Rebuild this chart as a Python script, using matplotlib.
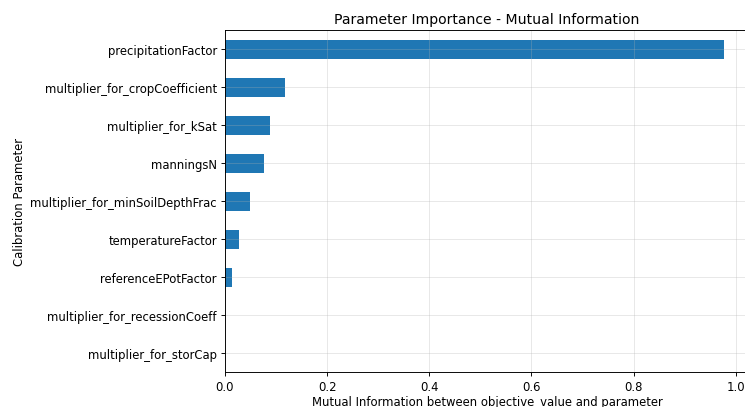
import numpy as np
import matplotlib
matplotlib.use("Agg")
import matplotlib.pyplot as plt

# Mutual information scores, lowest first (barh draws from the bottom up)
params = [
    "multiplier_for_storCap",
    "multiplier_for_recessionCoeff",
    "referenceEPotFactor",
    "temperatureFactor",
    "multiplier_for_minSoilDepthFrac",
    "manningsN",
    "multiplier_for_kSat",
    "multiplier_for_cropCoefficient",
    "precipitationFactor",
]
mi_scores = [0.0, 0.0, 0.014, 0.027, 0.049, 0.076, 0.088, 0.117, 0.977]

W, H, DPI = 745, 408, 84
fig = plt.figure(figsize=(W / DPI, H / DPI), dpi=DPI)
ax = fig.add_axes([225 / W, 35 / H, 524 / W, 342 / H])

pos = np.arange(len(params))
ax.barh(pos, mi_scores, height=0.5, color="#1f77b4")
ax.set_yticks(pos)
ax.set_yticklabels(params)
ax.set_ylim(-0.5, len(params) - 0.5)
ax.set_xlim(0, max(mi_scores) * 1.05)
ax.grid(True, alpha=0.3)

ax.set_title("Parameter Importance - Mutual Information")
ax.set_xlabel("Mutual Information between objective_value and parameter", labelpad=2)
ax.set_ylabel("Calibration Parameter")

fig.savefig("out.png", dpi=DPI)
